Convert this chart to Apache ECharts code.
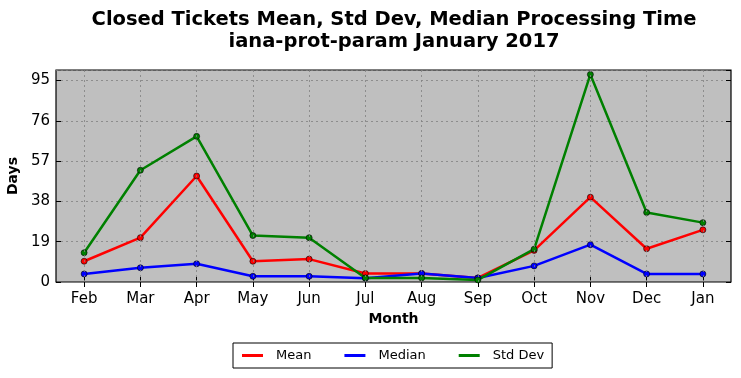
<!DOCTYPE html>
<html><head><meta charset="utf-8">
<script src="https://cdn.jsdelivr.net/npm/echarts@6/dist/echarts.min.js"></script>
<style>html,body{margin:0;padding:0;background:#fff}#c{width:741px;height:378px}</style>
</head><body><div id="c"></div>
<script>
const months = ['Feb','Mar','Apr','May','Jun','Jul','Aug','Sep','Oct','Nov','Dec','Jan'];
const meanVals = [9.8, 20.9, 50, 9.8, 10.8, 4, 4, 1.9, 14.9, 40, 15.7, 24.6];
const medianVals = [3.8, 6.7, 8.6, 2.7, 2.7, 1.8, 4, 1.9, 7.6, 17.6, 3.8, 3.8];
const stdVals = [13.8, 52.7, 68.7, 21.9, 20.9, 1.9, 1.9, 1, 15.5, 97.9, 32.8, 28];
const yTicks = [0, 19, 38, 57, 76, 95];

const font = 'DejaVu Sans';
const chart = echarts.init(document.getElementById('c'), null, {renderer:'canvas'});
function mk(name, data, color){
  return {name, type:'line', data, xAxisIndex:0, yAxisIndex:0, z:3,
    symbol:'circle', symbolSize:6, showSymbol:true,
    lineStyle:{color, width:2.5},
    itemStyle:{color, borderColor:'#000', borderWidth:0.6},
    emphasis:{disabled:true}, animation:false};
}
const gridStyle = {color:'#808080', type:[2,3], width:0.8};
chart.setOption({
  animation:false,
  title:{text:'Closed Tickets Mean, Std Dev, Median Processing Time\niana-prot-param January 2017',
    left:394, textAlign:'center', top:9, padding:0,
    textStyle:{fontFamily:font, fontSize:19.5, fontWeight:'bold', color:'#000', lineHeight:22}},
  grid:{left:56, right:10, top:70, bottom:96, show:true, backgroundColor:'#bfbfbf', borderColor:'#000', borderWidth:1.2,
    containLabel:false, outerBoundsMode:'none'},
  legend:{top:343, left:233, orient:'horizontal',
    data:['Mean','Median','Std Dev'], icon:'rect', itemWidth:21, itemHeight:3, itemGap:33,
    itemStyle:{borderWidth:0},
    borderColor:'#000', borderWidth:1, padding:[6,8,6,9],
    textStyle:{fontFamily:font, fontSize:13, color:'#000', padding:[0,0,0,8]}},
  xAxis:[{type:'category', data:months, boundaryGap:true, position:'bottom',
    name:'Month', nameLocation:'middle', nameGap:30,
    nameTextStyle:{fontFamily:font, fontSize:14, fontWeight:'bold', color:'#000'},
    axisLine:{show:false}, axisTick:{show:true, inside:true, alignWithLabel:true, length:5, lineStyle:{color:'#000'}},
    axisLabel:{fontFamily:font, fontSize:15, color:'#000', margin:10},
    splitLine:{show:false}},
   {type:'category', data:months, boundaryGap:true, position:'top',
    axisLine:{show:false}, axisTick:{show:true, inside:true, alignWithLabel:true, length:5, lineStyle:{color:'#000'}},
    axisLabel:{show:false}, splitLine:{show:false}}],
  yAxis:[{type:'value', min:0, max:100, interval:19, position:'left',
    name:'Days', nameLocation:'middle', nameGap:31, nameRotate:90,
    nameTextStyle:{fontFamily:font, fontSize:14, fontWeight:'bold', color:'#000'},
    axisLine:{show:false}, axisTick:{show:true, inside:true, length:5, lineStyle:{color:'#000'}},
    axisLabel:{fontFamily:font, fontSize:15, color:'#000', margin:6, showMaxLabel:false,
      formatter:v => yTicks.indexOf(v) >= 0 ? String(v) : ''},
    splitLine:{show:true, lineStyle:gridStyle}},
   {type:'value', min:0, max:100, interval:19, position:'right',
    axisLine:{show:false}, axisTick:{show:true, inside:true, length:5, lineStyle:{color:'#000'}},
    axisLabel:{show:false}, splitLine:{show:false}}],
  series:[
    {name:'vgrid', type:'line', data:[], z:1, silent:true,
     markLine:{silent:true, symbol:['none','none'], label:{show:false}, animation:false,
       lineStyle:gridStyle, emphasis:{disabled:true},
       data:months.map(m => ({xAxis:m}))}},
    mk('Mean', meanVals, '#ff0000'), mk('Median', medianVals, '#0000ff'), mk('Std Dev', stdVals, '#008000')]
});
</script></body></html>
